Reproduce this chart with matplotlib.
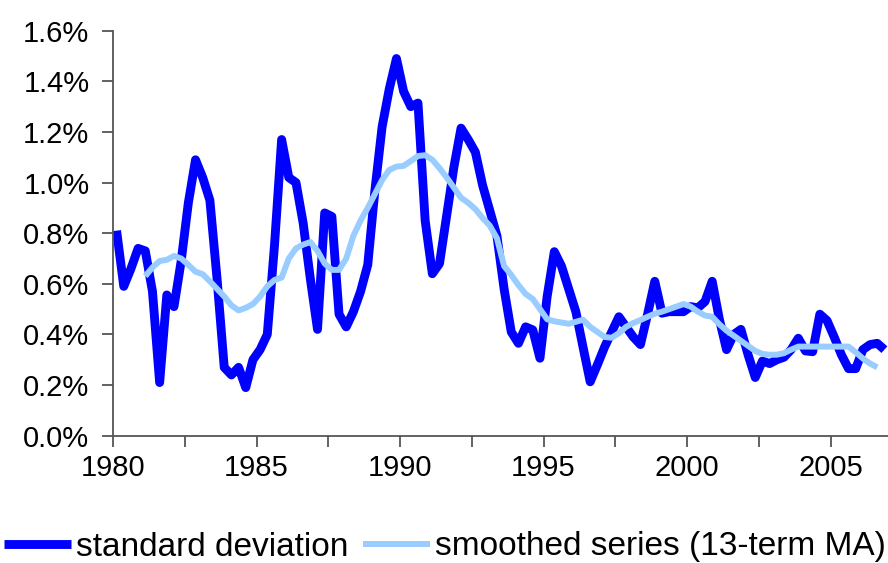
import numpy as np
import matplotlib
matplotlib.use("Agg")
import matplotlib.pyplot as plt
from matplotlib.ticker import FuncFormatter, MultipleLocator

plt.rcParams['font.family'] = ['Liberation Sans', 'DejaVu Sans']

# quarterly observations, 1980Q1 .. 2006Q4 (values in %)
std_dev = [
    0.81, 0.59, 0.66, 0.74, 0.73, 0.57, 0.21, 0.556, 0.51, 0.69,
    0.92, 1.09, 1.02, 0.93, 0.62, 0.27, 0.24, 0.27, 0.19, 0.30,
    0.34, 0.40, 0.75, 1.17, 1.02, 1.00, 0.84, 0.62, 0.42, 0.88,
    0.866, 0.48, 0.43, 0.49, 0.57, 0.675, 0.97, 1.22, 1.37, 1.49,
    1.36, 1.30, 1.314, 0.85, 0.64, 0.68, 0.87, 1.06, 1.215, 1.17,
    1.12, 0.99, 0.89, 0.79, 0.58, 0.41, 0.365, 0.43, 0.418, 0.306,
    0.55, 0.727, 0.67, 0.58, 0.49, 0.35, 0.213, 0.28, 0.35, 0.41,
    0.47, 0.43, 0.39, 0.36, 0.48, 0.61, 0.484, 0.49, 0.49, 0.49,
    0.51, 0.505, 0.53, 0.61, 0.46, 0.34, 0.40, 0.42, 0.32, 0.23,
    0.295, 0.285, 0.30, 0.31, 0.34, 0.385, 0.335, 0.332, 0.48, 0.455,
    0.39, 0.32, 0.265, 0.265, 0.34, 0.36, 0.365, 0.34,
]

# 13-term moving average, starts at the 5th quarter
smooth_start = 4
smoothed = [
    0.63, 0.665, 0.69, 0.695, 0.71, 0.70, 0.675, 0.648, 0.638, 0.61,
    0.58, 0.55, 0.515, 0.495, 0.505, 0.52, 0.55, 0.59, 0.615, 0.625,
    0.70, 0.74, 0.755, 0.765, 0.73, 0.68, 0.655, 0.655, 0.70, 0.79,
    0.85, 0.90, 0.955, 1.01, 1.05, 1.063, 1.066, 1.085, 1.105, 1.108,
    1.09, 1.057, 1.02, 0.98, 0.94, 0.92, 0.895, 0.86, 0.83, 0.78,
    0.67, 0.635, 0.595, 0.56, 0.54, 0.50, 0.46, 0.452, 0.447, 0.442,
    0.45, 0.458, 0.43, 0.41, 0.39, 0.387, 0.405, 0.43, 0.445, 0.457,
    0.47, 0.482, 0.49, 0.50, 0.51, 0.52, 0.51, 0.49, 0.475, 0.47,
    0.44, 0.415, 0.395, 0.375, 0.355, 0.335, 0.323, 0.32, 0.32, 0.326,
    0.34, 0.352, 0.352, 0.352, 0.352, 0.352, 0.352, 0.352, 0.352, 0.33,
    0.305, 0.285, 0.27,
]

years = [1980, 1985, 1990, 1995, 2000, 2005]

x = 1980 + (np.arange(len(std_dev)) + 0.5) / 4
xs = 1980 + (np.arange(len(smoothed)) + smooth_start + 0.5) / 4

fig = plt.figure(figsize=(8.88, 5.63), dpi=100)
ax = fig.add_axes([113 / 888, 1 - 435.7 / 563, 775 / 888, 405 / 563])

ax.plot(x, std_dev, color='#0000FF', lw=6.4, solid_joinstyle='round',
        solid_capstyle='butt', label='standard deviation', zorder=2)
ax.plot(xs, smoothed, color='#99CCFF', lw=4.3, solid_joinstyle='round',
        solid_capstyle='butt', label='smoothed series (13-term MA)', zorder=3)

ax.set_xlim(1980, 2007)
ax.set_ylim(0, 1.6)
ax.set_xticks(years)
ax.set_xticklabels([str(y) for y in years])
ax.xaxis.set_minor_locator(MultipleLocator(2.5))
ax.yaxis.set_major_locator(MultipleLocator(0.2))
ax.yaxis.set_major_formatter(FuncFormatter(lambda v, p: '%.1f%%' % v))

for s in ['top', 'right']:
    ax.spines[s].set_visible(False)
for s in ['left', 'bottom']:
    ax.spines[s].set_color('#555555')
    ax.spines[s].set_linewidth(1.3)

ax.tick_params(axis='both', which='both', direction='out', length=8,
               width=1.3, color='#555555', labelsize=21, labelcolor='black')
ax.tick_params(axis='x', which='minor', labelbottom=False)
ax.tick_params(axis='x', pad=5)
ax.tick_params(axis='y', pad=9)

fig.legend(loc='center left', bbox_to_anchor=(4 / 888, 1 - 547 / 563), ncol=2,
           frameon=False, fontsize=24, handlelength=2.0, handletextpad=0.15,
           columnspacing=0.45, borderaxespad=0, borderpad=0)

fig.savefig('out.png', dpi=100)
